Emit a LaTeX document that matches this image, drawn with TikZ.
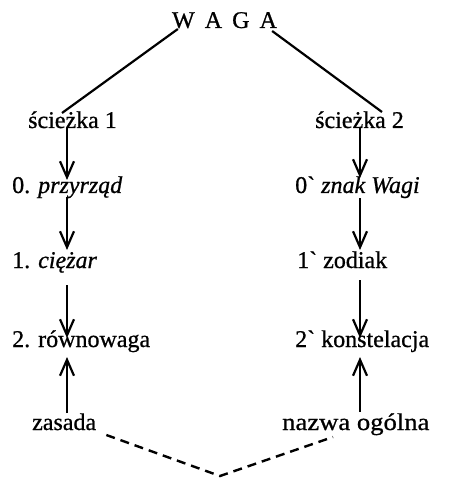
\documentclass[tikz,border=0pt]{standalone}
\usepackage{fontspec}
\setmainfont{Liberation Serif}[FakeBold=0.8]
\usetikzlibrary{arrows.meta}
\tikzset{
  lbl/.style={inner sep=0pt, anchor=base west, font=\fontsize{24}{29}\selectfont},
  link/.style={line width=2.2pt},
  arr/.style={line width=1.8pt, -{Straight Barb[length=16pt,width=14pt,line width=2.2pt]}},
  dashlink/.style={line width=2.4pt, dash pattern=on 9pt off 6pt}
}
\begin{document}
\begin{tikzpicture}[x=1pt,y=1pt]
  \useasboundingbox (0,0) rectangle (450,-478);
  % heading
  \node[lbl, anchor=base] (waga) at (224.5,-28) {W\hspace{0.42em}A\hspace{0.42em}G\hspace{0.42em}A};
  % left column
  \node[lbl] (s1) at (28,-128) {ścieżka 1};
  \node[lbl] (p0) at (12,-193) {0. \textit{przyrząd}};
  \node[lbl] (c1) at (12,-268) {1. \textit{ciężar}};
  \node[lbl] (r2) at (12,-347) {2. równowaga};
  \node[lbl] (zs) at (32,-430) {zasada};
  % right column
  \node[lbl] (s2) at (315,-128) {ścieżka 2};
  \node[lbl] (z0) at (295,-193) {0\textasciigrave{} \textit{znak Wagi}};
  \node[lbl] (z1) at (297,-268) {1\textasciigrave{} zodiak};
  \node[lbl] (k2) at (295,-347) {2\textasciigrave{} konstelacja};
  \node[lbl] (nz) at (282,-430) {\scalebox{1.11}[1]{nazwa ogólna}};
  % column axes and the meeting point of the dashed lines
  \coordinate (L) at (67,0);
  \coordinate (R) at (360,0);
  \coordinate (meet) at (220,-476);
  % branches from the heading
  \draw[link] ([shift={(6,-1)}]waga.base west) -- ([shift={(34,15)}]s1.base west);
  \draw[link] ([shift={(-5,-3)}]waga.base east) -- ([shift={(67,16)}]s2.base west);
  % left chain
  \draw[arr] (s1.base -| L) -- ([yshift=13]p0.base -| L);
  \draw[arr] ([yshift=-4]p0.base -| L) -- ([yshift=18]c1.base -| L);
  \draw[arr] ([yshift=-17]c1.base -| L) -- ([yshift=9]r2.base -| L);
  \draw[arr] ([yshift=17]zs.base -| L) -- ([yshift=-10]r2.base -| L);
  % right chain
  \draw[arr] (s2.base -| R) -- ([yshift=15]z0.base -| R);
  \draw[arr] ([yshift=-5]z0.base -| R) -- ([yshift=18]z1.base -| R);
  \draw[arr] ([yshift=-12]z1.base -| R) -- ([yshift=9]k2.base -| R);
  \draw[arr] ([yshift=18]nz.base -| R) -- ([yshift=-10]k2.base -| R);
  % dashed links to the common point
  \draw[dashlink] ([shift={(10,-5)}]zs.base east) -- (meet) -- ([shift={(51,-7)}]nz.base west);
\end{tikzpicture}
\end{document}
